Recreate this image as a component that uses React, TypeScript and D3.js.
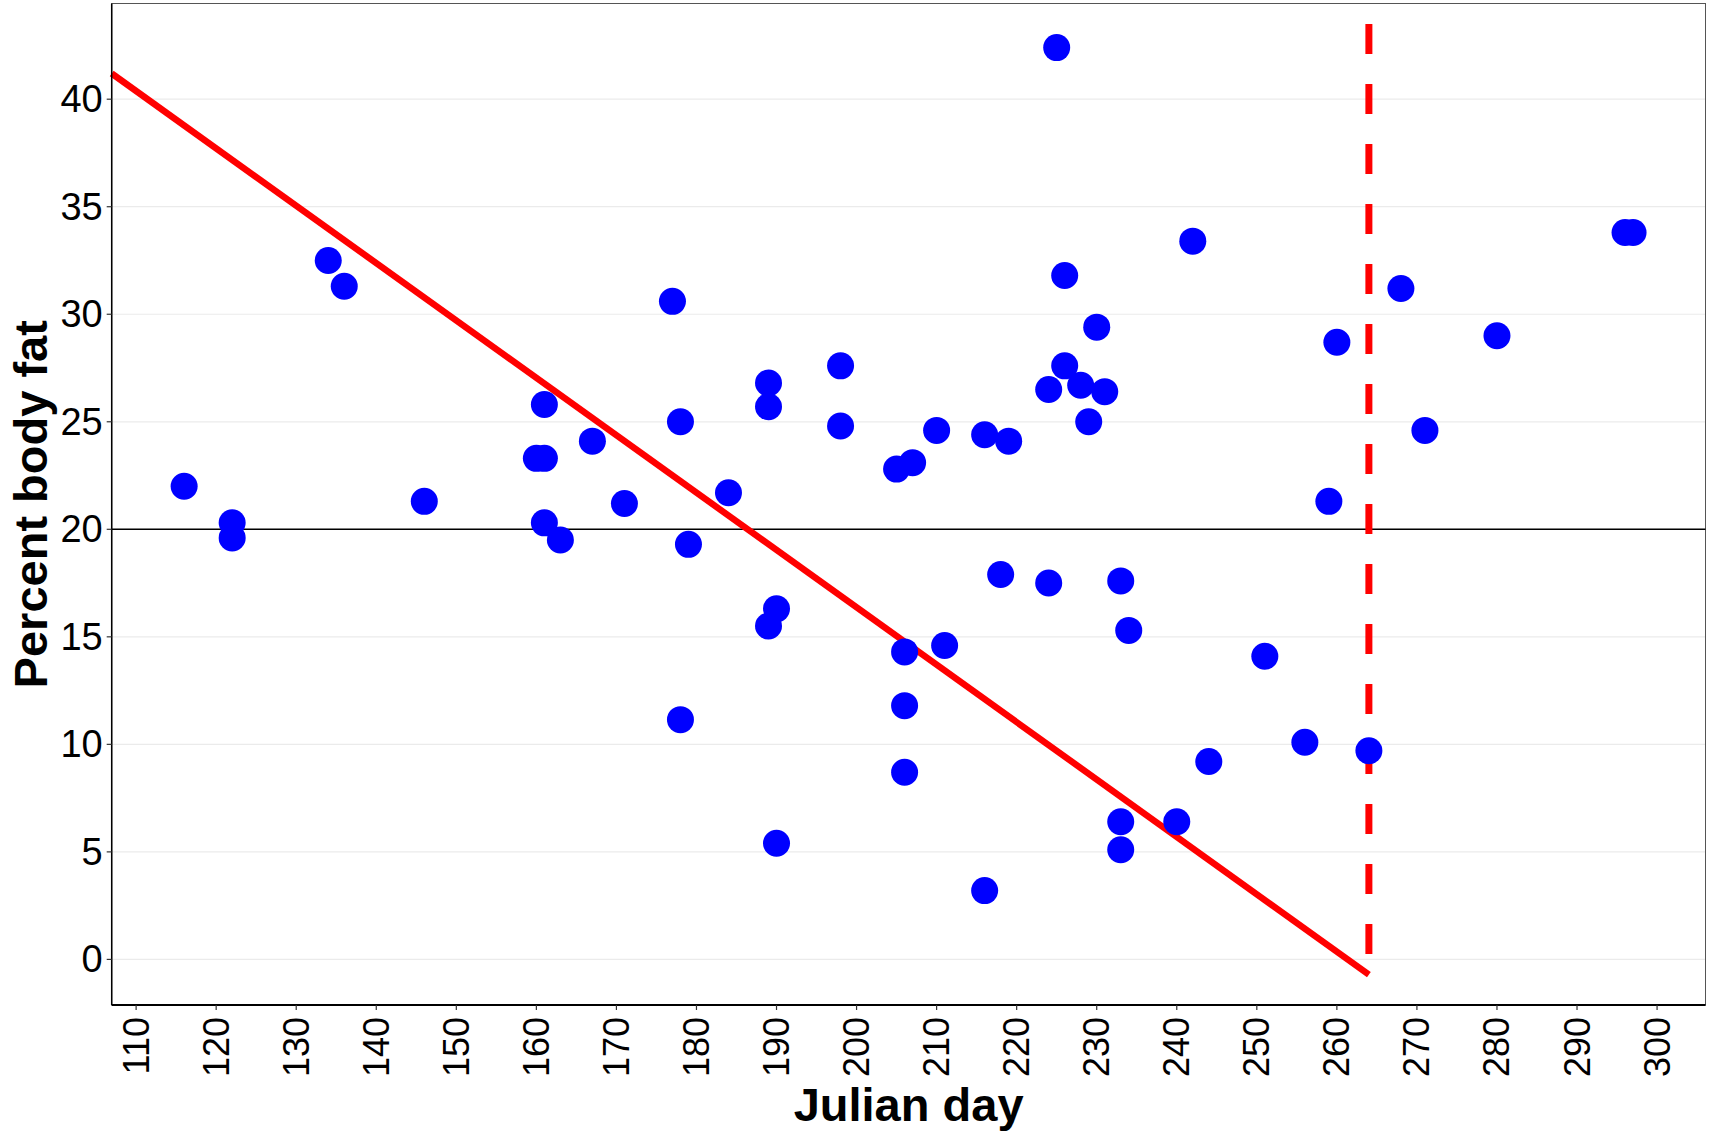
import React from "react";
import * as d3 from "d3";

// Julian day of each capture and the measured percent body fat
const julianDay = [
  116, 122, 122, 134, 136, 146, 160, 161, 161, 161, 163, 167, 171, 177, 178, 178,
  179, 184, 189, 189, 189, 190, 190, 198, 198, 205, 206, 206, 206, 207, 210, 211,
  216, 216, 218, 219, 224, 224, 225, 226, 226, 228, 229, 230, 231, 233, 233, 233,
  234, 240, 242, 244, 251, 256, 259, 260, 264, 268, 271, 280, 296, 297,
];
const bodyFat = [
  22.0, 20.3, 19.6, 32.5, 31.3, 21.3, 23.3, 23.3, 25.8, 20.3, 19.5, 24.1, 21.2, 30.6, 25.0, 11.15,
  19.3, 21.7, 26.8, 25.7, 15.5, 16.3, 5.4, 27.6, 24.8, 22.8, 14.3, 11.8, 8.7, 23.1, 24.6, 14.6,
  24.4, 3.2, 17.9, 24.1, 26.5, 17.5, 42.4, 31.8, 27.6, 26.7, 25.0, 29.4, 26.4, 17.6, 6.4, 5.1,
  15.3, 6.4, 33.4, 9.2, 14.1, 10.1, 21.3, 28.7, 9.7, 31.2, 24.6, 29.0, 33.8, 33.8,
];

// Axis ticks
const xTicks = [110, 120, 130, 140, 150, 160, 170, 180, 190, 200, 210, 220, 230, 240, 250, 260, 270, 280, 290, 300];
const yTicks = [0, 5, 10, 15, 20, 25, 30, 35, 40];

// Declining trend line (intercept, slope), drawn up to the cutoff day
const trendIntercept = 69.73;
const trendSlope = -0.2668;
const cutoffDay = 264;
const cutoffTop = 43.5;
const referenceFat = 20;

const W = 1711;
const H = 1131;
const left = 111.7;
const right = 1705.5;
const top = 3.5;
const bottom = 1005;

export default function App() {
  const x = d3.scaleLinear().domain([106.95, 306.05]).range([left, right]);
  const y = d3.scaleLinear().domain([-2.12, 44.45]).range([bottom, top]);

  const trendStart = x.domain()[0];
  const trendLine = d3.line<[number, number]>()
    .x((d) => x(d[0]))
    .y((d) => y(d[1]))([
      [trendStart, trendIntercept + trendSlope * trendStart],
      [cutoffDay, trendIntercept + trendSlope * cutoffDay],
    ]);
  const cutoffBottom = trendIntercept + trendSlope * cutoffDay;

  const font = "'Liberation Sans', Arial, Helvetica, sans-serif";

  return (
    <svg
      width={W}
      height={H}
      style={{ position: "absolute", left: 0, top: 0, background: "#fff" }}
      fontFamily={font}
    >
      <rect x={0} y={0} width={W} height={H} fill="#fff" />
      {/* major horizontal grid */}
      {yTicks.map((t) => (
        <line key={"g" + t} x1={left} x2={right} y1={y(t)} y2={y(t)} stroke="#EBEBEB" strokeWidth={1.2} />
      ))}
      {/* panel border */}
      <rect x={left} y={top} width={right - left} height={bottom - top} fill="none" stroke="#555" strokeWidth={1} />

      {/* reference line at 20% */}
      <line x1={left} x2={right} y1={y(referenceFat)} y2={y(referenceFat)} stroke="#000" strokeWidth={1.5} />

      {/* trend line */}
      <path d={trendLine ?? ""} stroke="#FF0000" strokeWidth={6.5} fill="none" />

      {/* cutoff day */}
      <line
        x1={x(cutoffDay)}
        x2={x(cutoffDay)}
        y1={y(cutoffTop)}
        y2={y(cutoffBottom)}
        stroke="#FF0000"
        strokeWidth={7}
        strokeDasharray="30 30"
      />

      {/* observations */}
      {julianDay.map((d, i) => (
        <circle key={"p" + i} cx={x(d)} cy={y(bodyFat[i])} r={13.5} fill="#0000FF" />
      ))}

      {/* axes */}
      <line x1={left} x2={left} y1={top} y2={bottom} stroke="#000" strokeWidth={1.5} />
      <line x1={left} x2={right} y1={bottom} y2={bottom} stroke="#000" strokeWidth={2} />

      {yTicks.map((t) => (
        <g key={"yt" + t}>
          <line x1={left - 5} x2={left} y1={y(t)} y2={y(t)} stroke="#333" strokeWidth={1.2} />
          <text x={left - 9} y={y(t)} textAnchor="end" dominantBaseline="central" fontSize={38} fill="#000">
            {t}
          </text>
        </g>
      ))}

      {xTicks.map((t) => (
        <g key={"xt" + t}>
          <line x1={x(t)} x2={x(t)} y1={bottom} y2={bottom + 5} stroke="#333" strokeWidth={1.2} />
          <text
            transform={`translate(${x(t)},${bottom + 12}) rotate(-90)`}
            textAnchor="end"
            dominantBaseline="central"
            fontSize={36}
            fill="#000"
          >
            {t}
          </text>
        </g>
      ))}

      {/* axis titles */}
      <text x={(left + right) / 2} y={1121} textAnchor="middle" fontSize={47} fontWeight="bold" fill="#000">
        Julian day
      </text>
      <text
        transform={`translate(47,${(top + bottom) / 2}) rotate(-90)`}
        textAnchor="middle"
        fontSize={47}
        fontWeight="bold"
        fill="#000"
      >
        Percent body fat
      </text>
    </svg>
  );
}
